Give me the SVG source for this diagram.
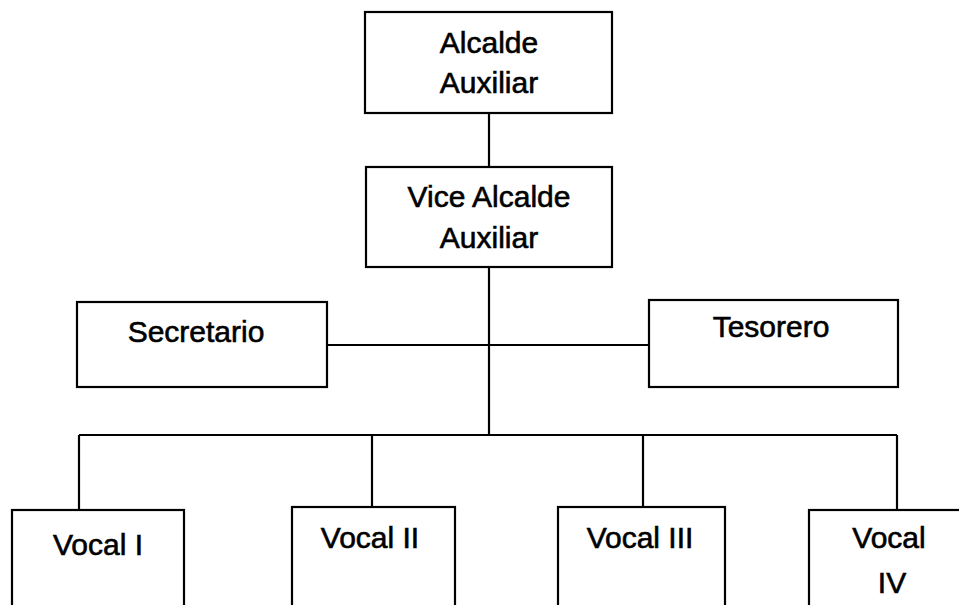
<svg xmlns="http://www.w3.org/2000/svg" width="959" height="605" viewBox="0 0 959 605">
<style>
.box{fill:#fff;stroke:#000;stroke-width:2.2}
.ln{stroke:#000;stroke-width:2.2;fill:none}
text{font-family:"Liberation Sans",Arial,sans-serif;font-size:30px;fill:#000;stroke:#000;stroke-width:0.6;text-anchor:middle}
</style>
<rect width="959" height="605" fill="#fff"/>
<g id="connectors">
<line class="ln" x1="489" y1="113" x2="489" y2="167"/>
<line class="ln" x1="489" y1="267" x2="489" y2="435"/>
<line class="ln" x1="327" y1="345" x2="649" y2="345"/>
<line class="ln" x1="79" y1="435" x2="897" y2="435"/>
<line class="ln" x1="79" y1="435" x2="79" y2="510"/>
<line class="ln" x1="372" y1="435" x2="372" y2="507"/>
<line class="ln" x1="643" y1="435" x2="643" y2="507"/>
<line class="ln" x1="897" y1="435" x2="897" y2="510"/>
</g>
<g id="alcalde">
<rect class="box" x="365" y="12" width="247" height="101"/>
<text x="489" y="53">Alcalde</text>
<text x="489" y="93">Auxiliar</text>
</g>
<g id="vicealcalde">
<rect class="box" x="366" y="167" width="246" height="100"/>
<text x="489" y="207">Vice Alcalde</text>
<text x="489" y="248">Auxiliar</text>
</g>
<g id="secretario">
<rect class="box" x="77" y="302" width="250" height="85"/>
<text x="196" y="342">Secretario</text>
</g>
<g id="tesorero">
<rect class="box" x="649" y="300" width="249" height="87"/>
<text x="771" y="337">Tesorero</text>
</g>
<g id="vocal1">
<rect class="box" x="12" y="510" width="172" height="110"/>
<text x="98" y="555">Vocal I</text>
</g>
<g id="vocal2">
<rect class="box" x="292" y="507" width="163" height="110"/>
<text x="370" y="548">Vocal II</text>
</g>
<g id="vocal3">
<rect class="box" x="558" y="507" width="167" height="110"/>
<text x="640" y="548">Vocal III</text>
</g>
<g id="vocal4">
<rect class="box" x="809" y="510" width="170" height="110"/>
<text x="889" y="548">Vocal</text>
<text x="892" y="593">IV</text>
</g>
</svg>
